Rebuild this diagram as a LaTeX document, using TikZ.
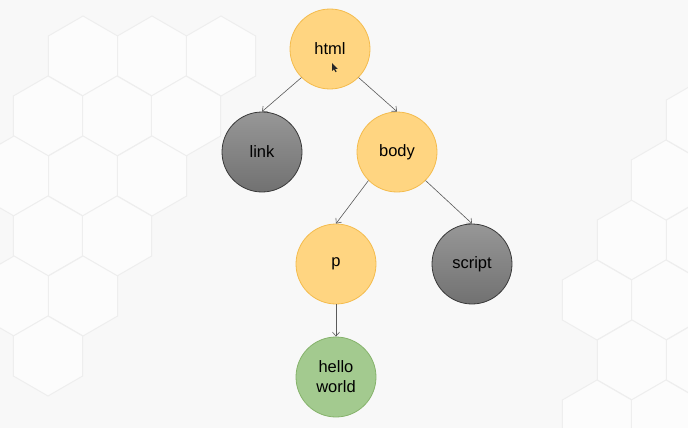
\documentclass[tikz,border=0pt]{standalone}
\usepackage{fontspec}
\setmainfont{Liberation Sans}
\usetikzlibrary{arrows.meta}
\definecolor{bgc}{HTML}{F8F8F8}
\definecolor{hexfill}{HTML}{FCFCFC}
\definecolor{hexline}{HTML}{EEEEEE}
\definecolor{yfill}{HTML}{FFD581}
\definecolor{yline}{HTML}{F4BC4E}
\definecolor{gtop}{HTML}{979797}
\definecolor{gbot}{HTML}{717171}
\definecolor{gline}{HTML}{3A3A3A}
\definecolor{grfill}{HTML}{A3CA8F}
\definecolor{grline}{HTML}{86B36C}
\definecolor{edgec}{HTML}{5A5A5A}
\tikzset{
  hexcell/.style={fill=hexfill, draw=hexline, line width=1pt},
  treenode/.style={circle, minimum size=80pt, inner sep=0pt, line width=0.8pt,
    font=\fontsize{16.5}{20}\selectfont, align=center, text=black},
  ynode/.style={treenode, fill=yfill, draw=yline},
  gnode/.style={treenode, top color=gtop, bottom color=gbot, draw=gline},
  grnode/.style={treenode, fill=grfill, draw=grline},
  edge/.style={draw=edgec, line width=0.6pt, -{Straight Barb[length=4pt,width=7pt]}}
}
\begin{document}
\begin{tikzpicture}[x=1pt,y=-1pt]
\useasboundingbox (0,0) rectangle (688,428);
\fill[bgc] (0,0) rectangle (688,428);
% faint hexagon pattern
\foreach \cx/\cy in {152/56, 221/56, 83/56, 117/116, 186/116, 48/116, 83/176, 152/176, 14/176, 48/236, 117/236, 14/296, 83/296, 48/356,
  632/240, 701/240, 666/180, 666/300, 597/300, 632/360, 701/360, 597/420, 666/420, 701/120}
  \draw[hexcell] (\cx,\cy) +(90:40) -- +(30:40) -- +(-30:40) -- +(-90:40) -- +(-150:40) -- +(150:40) -- cycle;
% nodes
\node[ynode] (html) at (330,49) {html};
\node[gnode] (link) at (262,152) {link};
\node[ynode] (body) at (397,152) {body};
\node[ynode] (p) at (336,264) {p};
\node[gnode] (script) at (472,264) {script};
\node[grnode] (hello) at (336,377) {hello\\world};
% edges
\draw[edge] (html.-135) -- (link.north);
\draw[edge] (html.-45) -- (body.north);
\draw[edge] (body.-135) -- (p.north);
\draw[edge] (body.-45) -- (script.north);
\draw[edge] (p.south) -- (hello.north);
% mouse pointer
\coordinate (cur) at (332,63);
\fill[black!85] (cur) -- ++(0,8) -- ++(1.8,-1.8) -- ++(1.8,3) -- ++(1.1,-0.6) -- ++(-1.7,-2.8) -- ++(2.7,0) -- cycle;
\end{tikzpicture}
\end{document}
